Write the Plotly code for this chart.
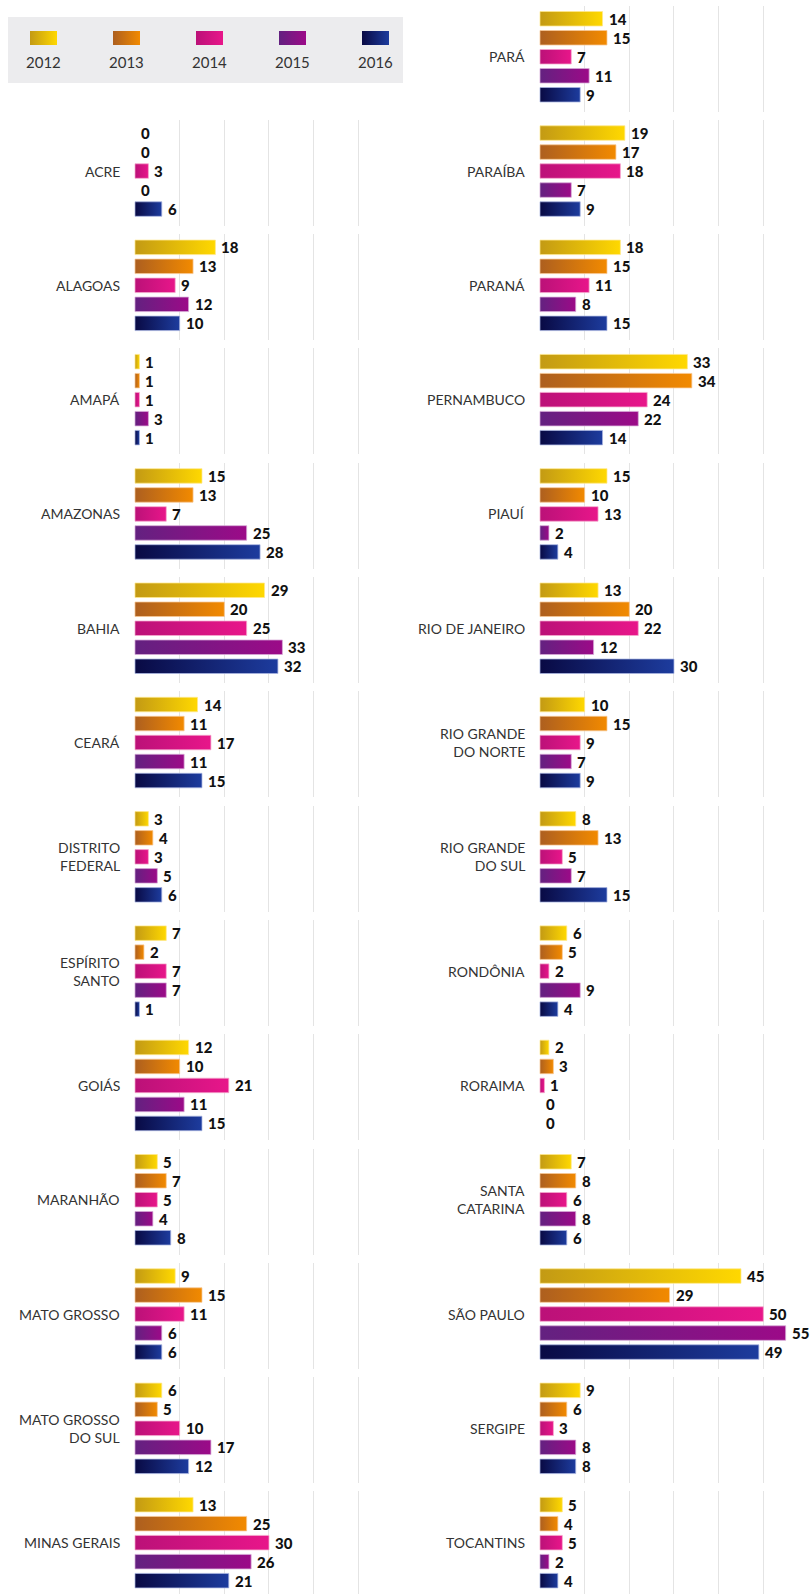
import plotly.graph_objects as go

# ---------------------------------------------------------------------------
# Data
# ---------------------------------------------------------------------------
years = ["2012", "2013", "2014", "2015", "2016"]

states = [
    "ACRE", "ALAGOAS", "AMAPÁ", "AMAZONAS", "BAHIA", "CEARÁ",
    "DISTRITO<br>FEDERAL", "ESPÍRITO<br>SANTO", "GOIÁS", "MARANHÃO",
    "MATO GROSSO", "MATO GROSSO<br>DO SUL", "MINAS GERAIS",
    "PARÁ", "PARAÍBA", "PARANÁ", "PERNAMBUCO", "PIAUÍ", "RIO DE JANEIRO",
    "RIO GRANDE<br>DO NORTE", "RIO GRANDE<br>DO SUL", "RONDÔNIA", "RORAIMA",
    "SANTA<br>CATARINA", "SÃO PAULO", "SERGIPE", "TOCANTINS",
]

v2012 = [0, 18, 1, 15, 29, 14, 3, 7, 12, 5, 9, 6, 13,
         14, 19, 18, 33, 15, 13, 10, 8, 6, 2, 7, 45, 9, 5]
v2013 = [0, 13, 1, 13, 20, 11, 4, 2, 10, 7, 15, 5, 25,
         15, 17, 15, 34, 10, 20, 15, 13, 5, 3, 8, 29, 6, 4]
v2014 = [3, 9, 1, 7, 25, 17, 3, 7, 21, 5, 11, 10, 30,
         7, 18, 11, 24, 13, 22, 9, 5, 2, 1, 6, 50, 3, 5]
v2015 = [0, 12, 3, 25, 33, 11, 5, 7, 11, 4, 6, 17, 26,
         11, 7, 8, 22, 2, 12, 7, 7, 9, 0, 8, 55, 8, 2]
v2016 = [6, 10, 1, 28, 32, 15, 6, 1, 15, 8, 6, 12, 21,
         9, 9, 15, 14, 4, 30, 9, 15, 4, 0, 6, 49, 8, 4]

series = [v2012, v2013, v2014, v2015, v2016]

# ---------------------------------------------------------------------------
# Styling
# ---------------------------------------------------------------------------
W, H = 810, 1594
FONT = "Lato"

gradients = [
    ("#c39a14", "#ffd800"),   # 2012
    ("#ad5f1f", "#f28a00"),   # 2013
    ("#bb1178", "#e8168a"),   # 2014
    ("#632180", "#9c0a88"),   # 2015
    ("#090a44", "#1d3c9e"),   # 2016
]
edges = [
    "rgba(255,232,140,0.75)",
    "rgba(248,200,150,0.75)",
    "rgba(246,170,205,0.75)",
    "rgba(215,170,215,0.75)",
    "rgba(170,182,225,0.75)",
]

X_MAX = 60
PX_PER_UNIT = 268 / X_MAX          # horizontal scale of each panel
ZERO_PX = [135, 540]               # x of the value 0 in each column
PAD_UNITS = 0.2                    # so the gridlines at 0 and 60 stay inside

ROW0 = 11.5        # top of the first bar in the first row
PITCH = 114.3      # distance between rows of panels
STEP_PX = 19.0     # distance between bars inside a panel
BAR_PX = 14.5      # bar thickness
HALF = BAR_PX / STEP_PX / 2


def sfx(n):
    return "" if n == 1 else str(n)


n_left = 13
placement = [(0, r + 1) for r in range(n_left)] + \
            [(1, r) for r in range(len(states) - n_left)]

fig = go.Figure()
layout = dict(
    width=W, height=H,
    margin=dict(l=0, r=0, t=0, b=0),
    paper_bgcolor="white", plot_bgcolor="rgba(0,0,0,0)",
    showlegend=False,
    font=dict(family=FONT, color="#333333"),
)
annotations = []

for i, name in enumerate(states):
    n = i + 1
    s = sfx(n)
    col, row = placement[i]
    T = ROW0 + PITCH * row
    top_px = T - 6
    bot_px = min(T + 100, H)

    x0_px = ZERO_PX[col] - PAD_UNITS * PX_PER_UNIT
    x1_px = ZERO_PX[col] + (X_MAX + PAD_UNITS) * PX_PER_UNIT
    layout[f"xaxis{s}"] = dict(
        domain=[x0_px / W, min(x1_px / W, 1.0)],
        range=[-PAD_UNITS, X_MAX + PAD_UNITS],
        anchor=f"y{s}",
        tickvals=list(range(0, X_MAX + 1, 10)),
        showticklabels=False, ticks="",
        showgrid=True, gridcolor="#e4e4e4", gridwidth=1,
        zeroline=False, showline=False, fixedrange=True,
    )
    layout[f"yaxis{s}"] = dict(
        domain=[1 - bot_px / H, 1 - top_px / H],
        range=[-HALF + (bot_px - T) / STEP_PX, -HALF - 6 / STEP_PX],
        anchor=f"x{s}",
        showticklabels=False, ticks="", showgrid=False,
        zeroline=False, showline=False, fixedrange=True,
    )

    for k in range(len(years)):
        v = series[k][i]
        if v > 0:
            c0, c1 = gradients[k]
            fig.add_trace(go.Scatter(
                x=[0, v, v, 0, 0],
                y=[k - HALF, k - HALF, k + HALF, k + HALF, k - HALF],
                fill="toself",
                fillgradient=dict(type="horizontal",
                                  colorscale=[[0, c0], [1, c1]]),
                mode="lines",
                line=dict(width=1, color=edges[k]),
                xaxis=f"x{s}", yaxis=f"y{s}",
                hoverinfo="skip",
            ))
        annotations.append(dict(
            x=v, y=k, xref=f"x{s}", yref=f"y{s}",
            text=str(v), showarrow=False,
            xanchor="left", yanchor="middle", xshift=4,
            font=dict(family=FONT, size=15, color="#111111", weight=900),
        ))

    annotations.append(dict(
        x=0, y=2, xref=f"x{s} domain", yref=f"y{s}",
        text=name, showarrow=False, align="right",
        xanchor="right", yanchor="middle",
        xshift=-(PAD_UNITS * PX_PER_UNIT + 11),
        font=dict(family=FONT, size=14, color="#333333"),
    ))

# ---------------------------------------------------------------------------
# Legend panel (gradient swatches with year labels)
# ---------------------------------------------------------------------------
nl = len(states) + 1
LEG_L, LEG_R, LEG_T, LEG_B = 8, 403, 17, 83
SW_STEP = 83.0
first_c = 43.5 - LEG_L
layout[f"xaxis{nl}"] = dict(
    domain=[LEG_L / W, LEG_R / W],
    range=[-first_c / SW_STEP, -first_c / SW_STEP + (LEG_R - LEG_L) / SW_STEP],
    anchor=f"y{nl}", visible=False, fixedrange=True,
)
layout[f"yaxis{nl}"] = dict(
    domain=[1 - LEG_B / H, 1 - LEG_T / H],
    range=[LEG_B - LEG_T, 0],
    anchor=f"x{nl}", visible=False, fixedrange=True,
)
sw_half = 13.5 / SW_STEP
for k, yr in enumerate(years):
    c0, c1 = gradients[k]
    fig.add_trace(go.Scatter(
        x=[k - sw_half, k + sw_half, k + sw_half, k - sw_half, k - sw_half],
        y=[14, 14, 28, 28, 14],
        fill="toself",
        fillgradient=dict(type="horizontal", colorscale=[[0, c0], [1, c1]]),
        mode="lines", line=dict(width=0, color=c1),
        xaxis=f"x{nl}", yaxis=f"y{nl}", hoverinfo="skip",
    ))
    annotations.append(dict(
        x=k, y=45, xref=f"x{nl}", yref=f"y{nl}",
        text=yr, showarrow=False, xanchor="center", yanchor="middle",
        font=dict(family=FONT, size=15, color="#333333"),
    ))

layout["shapes"] = [dict(
    type="rect", xref="paper", yref="paper", layer="below",
    x0=LEG_L / W, x1=LEG_R / W, y0=1 - LEG_B / H, y1=1 - LEG_T / H,
    fillcolor="#ececee", line=dict(width=0),
)]
layout["annotations"] = annotations

fig.update_layout(**layout)
fig.write_html("out.html")
